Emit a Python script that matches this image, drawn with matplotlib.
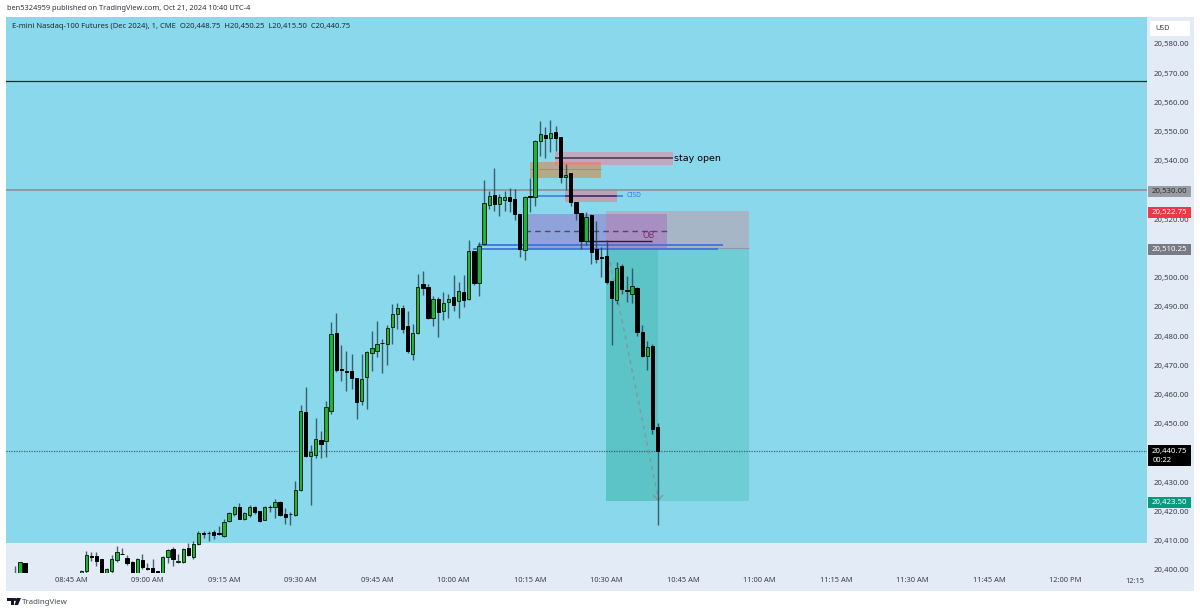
"""
E-mini Nasdaq-100 1 minute chart, TradingView look
"""
import numpy as np
import matplotlib
matplotlib.use('Agg')
import matplotlib.pyplot as plt
from matplotlib.patches import Rectangle, Polygon
from matplotlib.transforms import Bbox, blended_transform_factory

plt.rcParams['font.family'] = ['Noto Sans', 'DejaVu Sans']

PRICE_BASE = 20000  # bar values below are stored without this

# bars: open, high, low, close
opens = [399, 398, 402.3,
         397, 399.6, 404.6, 404.6, 403.7, 398, 399.6, 403.5, 405.5, 404, 402.7, 398, 403.2, 400.6, 400.6, 399.6,
         398, 404.5, 407.1, 402.6, 402.8, 407.4, 404.6, 409, 412.5, 412.6, 412.9, 412.5, 411.5, 416.6, 419, 421.5,
         417.5, 418.8, 421.6, 420, 417.2, 421.5, 421.4, 423, 418.9, 419, 418.9, 427.2, 454.1, 439, 439.5, 444.5,
         444, 454.3, 481.1, 468.7, 467.9, 468.1, 465.5, 457.7, 466.2, 474.4, 475.1, 477.7, 477.2, 483, 487.7, 489.6,
         483.4, 474, 481, 497.7, 496.7, 486.1, 492.6, 488.7, 491.8, 493.2, 492, 495.1, 492.6, 509.2, 498.3, 511.4,
         525, 528.3, 525.2, 526.6, 527.4, 526.8, 521.8, 509.5, 527.8, 527.7, 546.9, 548.6, 547.8, 549.8, 548, 534.4,
         535.7, 525.7, 522, 512.6, 521.4, 509.7, 506.9, 507.5, 498.8, 492.5, 503.9, 495.6, 494.6, 496.5, 481.4, 473.2,
         476.4, 448.75]
highs = [401.2, 402.8, 402.5,
         399.9, 406.6, 406.2, 406, 403.8, 400.8, 405, 408.3, 407.6, 405.2, 403, 404, 405.4, 402.4, 403.8, 399.7,
         404.8, 407.2, 408, 405.5, 407.5, 409.2, 409.8, 413.2, 413.3, 413.2, 413.7, 415.2, 417.5, 420, 421.8, 422.8,
         419.9, 422.3, 421.8, 420.1, 421.8, 422.3, 424.3, 423.7, 421.2, 419.7, 430.5, 456.5, 462.7, 442.6, 451.9, 447.4,
         457.9, 484.8, 487.8, 477, 474.9, 474, 465.6, 474, 474.9, 481.9, 485.2, 478.9, 483.7, 491, 491.2, 490.6,
         488.6, 484.1, 501.3, 502.3, 497.7, 493.9, 493.3, 495.2, 494.3, 500.9, 498.4, 500.8, 512.9, 509.2, 512.1,
         533.4, 529.7, 537.4, 528.5, 529.7, 530.7, 530.3, 521.9, 528, 534, 547, 553.6, 551.5, 554, 551.9, 548.2,
         538.8, 535.8, 525.9, 522.3, 522.5, 521.9, 519.4, 510.6, 512.8, 498.9, 505.5, 504.7, 500.6, 503.3, 497, 483.8,
         478.3, 477.2, 450.25]
lows = [397, 397, 397,
        396, 399, 403.1, 401.5, 397, 397, 399, 402.7, 405.3, 401.8, 397, 397, 400.5, 400, 397, 397,
        397, 402.3, 401.2, 402.3, 402.5, 404.8, 403.9, 408.6, 411, 409.8, 410.7, 411.8, 411.3, 416.3, 418.6, 417.3,
        417.2, 418, 419, 416.5, 417, 419.7, 417.7, 418.3, 415.8, 415.4, 418.3, 426.9, 438.6, 422.2, 438.2, 438.2,
        438.8, 453.4, 467.9, 464.7, 461.4, 462, 451.6, 456.5, 455.2, 468.2, 472.8, 467.4, 470, 477.3, 482.5, 481.2,
        474.1, 472, 480.8, 494.2, 485.8, 483.4, 479.8, 485.5, 486.1, 488.6, 486.3, 489.9, 492.4, 497.5, 493.9, 511.2,
        523.6, 522.8, 521.2, 522.8, 522.5, 519.8, 507.2, 506, 522.6, 524.7, 541.7, 540.9, 543.1, 543.3, 532.5, 530,
        524.6, 519.8, 509.7, 511.2, 504.6, 504.9, 500.4, 498, 477, 491, 494.3, 491.7, 491.2, 480, 473, 468.3,
        446.5, 415.5]
closes = [398.5, 402.6, 398,
          399.6, 405.1, 404.4, 403, 398, 400.3, 403.9, 406.2, 405.4, 402.3, 398, 403.7, 401, 400.5, 398, 398,
          404.6, 406.7, 403.7, 403, 407.2, 405.2, 408.8, 412.5, 412.4, 412.5, 412, 412.4, 416.5, 419.4, 421.5, 417.5,
          419.4, 421.4, 419.7, 416.6, 421.5, 421.4, 423.2, 418.9, 418.2, 419.1, 427.4, 454.4, 439.1, 440.3, 444.9, 443.2,
          455.7, 480.6, 468.4, 468.6, 467.8, 465.6, 457.6, 465.4, 474.6, 475.8, 477.5, 477.6, 482.9, 487.5, 489.5, 482.6,
          474.9, 481, 496.7, 496.5, 486.1, 492.6, 488.4, 491.2, 492.7, 490.8, 495.4, 492.5, 509.3, 498.2, 511, 525.5,
          528, 525.3, 527.5, 527.5, 526.1, 521.9, 510, 527.7, 527.7, 546.9, 549.2, 547.9, 549.6, 547.8, 534.6, 535.3,
          526, 522, 512.7, 520.9, 508.9, 506.5, 506.8, 498.6, 493.2, 503.5, 496.2, 495.5, 497.3, 481.5, 473.3, 476.3,
          448.3, 440.75]

# first three bars sit left of a gap hidden under the axis, minutes counted from 08:45
minutes = [-11, -10, -9] + list(range(2, 2 + len(opens) - 3))

price_ticks = np.arange(20400, 20590, 10)
covered_ticks = [20440, 20510, 20530]  # these sit fully under a price tag
time_ticks = np.arange(0, 210, 15)
time_labels = ['08:45 AM', '09:00 AM', '09:15 AM', '09:30 AM', '09:45 AM', '10:00 AM', '10:15 AM',
               '10:30 AM', '10:45 AM', '11:00 AM', '11:15 AM', '11:30 AM', '11:45 AM', '12:00 PM']

BG_BLUE = '#8AD8EB'
PANEL = '#E3ECF6'
TEXT = '#3b3f48'

W, H = 1200, 614
fig = plt.figure(figsize=(W / 100, H / 100), dpi=100, facecolor='white')

# light panel behind chart and both scales
fig.add_artist(Rectangle((6 / W, 1 - 591 / H), 1188 / W, 574 / H, transform=fig.transFigure,
                         facecolor=PANEL, edgecolor='none', zorder=-5))

ax = fig.add_axes([6 / W, 1 - 573 / H, 1141 / W, 556 / H])
ax.patch.set_alpha(0)
ax.set_xlim(-12.745, 210.98)
ax.set_ylim(20398.96, 20589.24)
for s in ax.spines.values():
    s.set_visible(False)

ax.axhspan(20409.3, 20589.24, color=BG_BLUE, lw=0, zorder=0)

# long position box
ax.add_patch(Rectangle((104.9, 20423.5), 28, 86.75, facecolor='#6FCDD6', edgecolor='none', zorder=1))
ax.add_patch(Rectangle((104.9, 20423.5), 10.2, 86.75, facecolor='#5CC3C6', edgecolor='none', zorder=1.1))
ax.add_patch(Rectangle((104.9, 20510.25), 28, 12.5, facecolor='#A6B6C6', edgecolor='none', zorder=1))
ax.hlines(20510.25, 104.9, 132.9, color='#8e9aa5', lw=0.8, zorder=1.2)

# blue zone with purple overlap
ax.add_patch(Rectangle((89, 20510), 15.9, 11.8, facecolor='#8FA3DA', edgecolor='none', zorder=1.3))
ax.add_patch(Rectangle((104.9, 20510.25), 12, 11.55, facecolor='#A88FC2', edgecolor='none', zorder=1.3))
ax.hlines(20516, 89, 116.9, color='#4a4a6a', lw=1, linestyles=(0, (4, 3)), zorder=1.5)

# supply boxes
ax.add_patch(Rectangle((90, 20534.3), 13.9, 5.4, facecolor='#B5A98A', edgecolor='none', zorder=1.3))
ax.add_patch(Rectangle((94.9, 20538.6), 23.1, 4.6, facecolor='#BFA9BE', edgecolor='none', zorder=1.3))
ax.add_patch(Rectangle((94.9, 20538.6), 9, 1.1, facecolor='#DB8B80', edgecolor='none', zorder=1.35))
ax.hlines(20537.2, 90, 103.9, color='#9c9078', lw=0.7, zorder=1.4)
ax.hlines(20541.1, 94.9, 118, color='#4e3c50', lw=1.2, zorder=1.4)
ax.add_patch(Rectangle((96.9, 20526), 10.1, 4, facecolor='#BFA0B5', edgecolor='none', zorder=1.3))

# level lines
ax.axhline(20567.3, color='#1c2b2e', lw=0.9, zorder=1.6)
ax.axhline(20530, color='#8b8f96', lw=1.3, alpha=0.9, zorder=1.6)
ax.axhline(20440.75, color='#2a4048', lw=0.9, alpha=0.75, linestyle=(0, (1, 1)), zorder=1.6)
ax.hlines(20528, 90.6, 108.2, color='#3F73E0', lw=1.1, zorder=1.7)
ax.hlines(20528, 96.9, 107, color='#46305a', lw=1.1, zorder=1.75)
ax.hlines(20511.2, 79.8, 127.8, color='#3F73E0', lw=1.3, zorder=1.7)
ax.hlines(20510, 78.8, 126.9, color='#3F73E0', lw=1.3, zorder=1.7)
ax.hlines(20512.7, 101.2, 113.9, color='#3c1638', lw=1, zorder=2.5)

# path of the trade, dashed with small arrow head
ax.plot([105.7, 115.2], [20505.4, 20424], color='#7f9aa0', lw=1, linestyle=(0, (3, 3)), zorder=1.8)
ax.plot([114.2, 115.2, 116], [20425.5, 20424, 20425.5], color='#7f9aa0', lw=1, zorder=1.8)

# candles
o = np.array(opens) + PRICE_BASE
h = np.array(highs) + PRICE_BASE
l = np.array(lows) + PRICE_BASE
c = np.array(closes) + PRICE_BASE
up = c >= o
ax.vlines(minutes, l, h, color='#22404a', lw=1, alpha=0.8, zorder=3)
ax.bar(np.array(minutes)[up], (c - o)[up], bottom=o[up], width=0.66, color='#22B03A',
       edgecolor='#0c2a14', linewidth=0.7, zorder=4)
ax.bar(np.array(minutes)[~up], (o - c)[~up] + 0.1, bottom=c[~up], width=0.66, color='black',
       edgecolor='black', linewidth=0.7, zorder=4)

# chart notes
ax.text(118.3, 20540.9, 'stay open', fontsize=6.8, family='DejaVu Sans', color='black',
        va='center', ha='left', zorder=5)
ax.text(108.9, 20528, 'CISD', fontsize=4.8, color='#3F73E0', va='center', ha='left', zorder=5)
ax.text(112, 20514.4, 'OB', fontsize=6.2, color='#7c2a6a', va='center', ha='left', zorder=5)

# scales
ax.yaxis.tick_right()
ax.set_yticks(price_ticks)
ax.set_yticklabels(['' if p in covered_ticks else f'{p:,.2f}' for p in price_ticks])
ax.tick_params(axis='y', length=0, pad=5, labelsize=5.6, labelcolor=TEXT)
ax.set_xticks(time_ticks)
ax.set_xticklabels(time_labels)
ax.tick_params(axis='x', length=0, pad=3.2, labelsize=5.4, labelcolor=TEXT)
ax.text(208.6, 20396.2, '12:15', fontsize=5.4, color=TEXT, ha='center', va='center', clip_on=False)

# bottom label of the price scale is cut by the time scale
for lab in ax.get_yticklabels():
    lab.set_clip_box(Bbox([[0, H - 573], [W, H]]))
    lab.set_clip_on(True)

# price tags on the scale
tag_tr = blended_transform_factory(ax.transAxes, ax.transData)
TAG_X0 = 1.0005
TAG_W = 43 / 1141
TAG_XC = TAG_X0 + TAG_W / 2


def price_tag(price, label, color, txt='white'):
    y = price - 0.45
    ax.add_patch(Rectangle((TAG_X0, y - 1.85), TAG_W, 3.7, transform=tag_tr, facecolor=color,
                           edgecolor='none', clip_on=False, zorder=8))
    ax.text(TAG_XC, y, label, transform=tag_tr, color=txt, fontsize=5.6, ha='center', va='center',
            clip_on=False, zorder=9, fontweight='medium')


price_tag(20530, '20,530.00', '#9A9CA3', '#2b2d33')
price_tag(20522.75, '20,522.75', '#F23645')
price_tag(20510.25, '20,510.25', '#787B86')
price_tag(20423.5, '20,423.50', '#089981')
ax.add_patch(Rectangle((TAG_X0, 20435.6), TAG_W, 7, transform=tag_tr, facecolor='black',
                       edgecolor='none', clip_on=False, zorder=8))
ax.text(TAG_XC, 20440.6, '20,440.75', transform=tag_tr, color='white', fontsize=5.6, ha='center',
        va='center', clip_on=False, zorder=9)
ax.text(TAG_X0 + 5 / 1141, 20437.5, '00:22', transform=tag_tr, color='white', fontsize=5.4, ha='left',
        va='center', clip_on=False, zorder=9)

# USD box
fig.add_artist(Rectangle((1150 / W, 1 - 36 / H), 40 / W, 15 / H, transform=fig.transFigure,
                         facecolor='white', edgecolor='none', zorder=6))
fig.text(1155 / W, 1 - 29 / H, 'USD', fontsize=5.2, color=TEXT, va='center', ha='left', zorder=7)

# header and legend
fig.text(7 / W, 1 - 9 / H, 'ben5324959 published on TradingView.com, Oct 21, 2024 10:40 UTC-4',
         fontsize=5.35, color='#30343c', va='center', ha='left')
fig.text(12 / W, 1 - 27 / H,
         'E-mini Nasdaq-100 Futures (Dec 2024), 1, CME  O20,448.75  H20,450.25  L20,415.50  C20,440.75',
         fontsize=5.47, color='#1f2a33', va='center', ha='left', zorder=6)

# TradingView mark in the footer
for pts in ([(7, 598), (14, 598), (14, 605), (11, 605), (11, 601), (7, 601)],
            [(17, 598), (21, 598), (18, 605), (14.5, 605)]):
    fig.add_artist(Polygon([(x / W, 1 - y / H) for x, y in pts], closed=True, transform=fig.transFigure,
                           facecolor='#131722', edgecolor='none'))
fig.add_artist(plt.Circle((15.2 / W, 1 - 599.5 / H), 1.4 / W, transform=fig.transFigure, color='#131722'))
fig.text(22 / W, 1 - 602 / H, 'TradingView', fontsize=5.7, color='#4a4e58', va='center', ha='left')

fig.savefig('out.png', dpi=100)
